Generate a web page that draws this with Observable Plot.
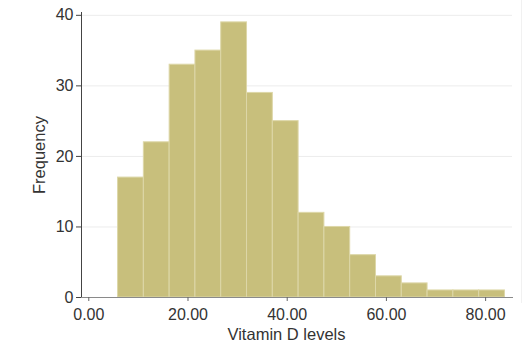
<!DOCTYPE html>
<html>
<head>
<meta charset="utf-8">
<script src="https://cdn.jsdelivr.net/npm/d3@7"></script>
<script src="https://cdn.jsdelivr.net/npm/@observablehq/plot@0.6"></script>
<style>
  html, body { margin: 0; padding: 0; background: #fff; }
  #chart { position: relative; width: 527px; height: 352px; }
  #edge { position: absolute; left: 521px; top: 0; width: 1px; height: 303px; background: #f1f1f1; }
</style>
</head>
<body>
<div id="chart"><div id="edge"></div></div>
<script>
// Bin edges (Vitamin D levels) and frequencies
const binLower = [5.9, 11.1, 16.3, 21.5, 26.7, 31.9, 37.1, 42.3, 47.5, 52.7, 57.9, 63.1, 68.3, 73.5, 78.7];
const binUpper = [11.1, 16.3, 21.5, 26.7, 31.9, 37.1, 42.3, 47.5, 52.7, 57.9, 63.1, 68.3, 73.5, 78.7, 83.9];
const frequency = [17, 22, 33, 35, 39, 29, 25, 12, 10, 6, 3, 2, 1, 1, 1];
const xTicks = [0, 20, 40, 60, 80];
const yTicks = [0, 10, 20, 30, 40];
const xTitle = "Vitamin D levels";
const yTitle = "Frequency";

const bins = frequency.map((f, i) => ({x1: binLower[i], x2: binUpper[i], count: f}));

const font = "'Liberation Sans', Arial, Helvetica, sans-serif";

const chart = Plot.plot({
  width: 527,
  height: 352,
  marginLeft: 81,
  marginRight: 15,
  marginTop: 12,
  marginBottom: 55,
  style: {fontFamily: font, fontSize: "16px", color: "#333", background: "transparent"},
  x: {domain: [-1.47, 85.42], ticks: xTicks, tickFormat: d3.format(".2f")},
  y: {domain: [0, 40.4], ticks: yTicks},
  marks: [
    Plot.gridY(yTicks.filter(d => d > 0), {stroke: "#ececec", strokeOpacity: 1}),
    Plot.rectY(bins, {x1: "x1", x2: "x2", y: "count", fill: "#c8bf7c", stroke: "#ddd7a8", strokeWidth: 1}),
    Plot.frame({anchor: "left", stroke: "#444"}),
    Plot.frame({anchor: "bottom", stroke: "#8a8a8a"}),
    Plot.axisY(yTicks, {tickSize: 5, tickPadding: 3, label: null, stroke: "#444", fontSize: 16}),
    Plot.axisX(xTicks, {tickSize: 4, tickPadding: 7, label: null, tickFormat: d3.format(".2f"), stroke: "#666", fontSize: 16}),
    Plot.text([yTitle], {frameAnchor: "left", rotate: -90, dx: -41.5, textAnchor: "middle", lineAnchor: "middle", fontSize: 16.5, fill: "#333"}),
    Plot.text([xTitle], {frameAnchor: "bottom", dx: -10.5, dy: 42.5, textAnchor: "middle", lineAnchor: "bottom", fontSize: 16.5, fill: "#333"})
  ]
});
document.getElementById("chart").appendChild(chart);
</script>
</body>
</html>
